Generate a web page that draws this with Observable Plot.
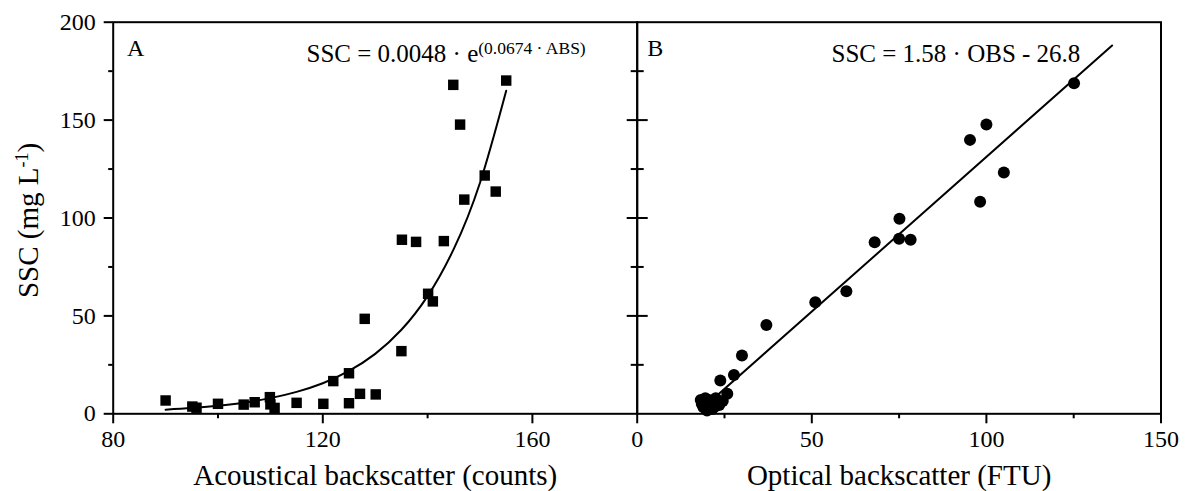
<!DOCTYPE html>
<html>
<head>
<meta charset="utf-8">
<script src="https://cdn.jsdelivr.net/npm/d3@7"></script>
<script src="https://cdn.jsdelivr.net/npm/@observablehq/plot@0.6"></script>
<style>
  html, body { margin: 0; padding: 0; background: #fff; }
  #chart { position: relative; width: 1189px; height: 491px; background: #fff; overflow: hidden; }
  #chart svg { position: absolute; top: 0; }
</style>
</head>
<body>
<div id="chart"></div>
<script>
// ---------- Panel A: acoustical backscatter (counts) vs SSC ----------
const absCounts = [90.0, 95.1, 95.9, 100.0, 104.9, 107.0, 109.9, 110.0, 110.8, 115.0, 120.1, 122.0, 125.0, 125.0, 127.1, 128.0, 130.1, 135.0, 135.1, 137.8, 140.1, 141.0, 143.1, 144.9, 146.2, 147.0, 150.9, 153.0, 155.0];
const absSSC    = [6.8, 3.7, 3.1, 5.1, 4.7, 5.9, 8.5, 4.8, 3.0, 5.6, 5.1, 16.7, 20.7, 5.4, 10.2, 48.5, 9.9, 32.0, 88.9, 87.8, 61.3, 57.4, 88.2, 168.0, 147.7, 109.4, 121.7, 113.5, 170.2];
// fitted curve
const fitAbsX   = [90, 95, 100, 105, 110, 115, 120, 125, 130, 135, 140, 145, 150, 155];
const fitAbsSSC = [2.1, 2.9, 4.1, 5.7, 8.0, 11.2, 15.6, 21.9, 30.6, 42.9, 60.1, 84.2, 118, 165];

// ---------- Panel B: optical backscatter (FTU) vs SSC ----------
const obsFTU = [125.1, 100.0, 95.3, 105.0, 98.2, 75.1, 75.0, 78.3, 68.0, 59.9, 51.0, 37.0, 30.0, 27.7, 23.8, 25.8, 24.5, 23.5, 22.0, 21.0, 20.0, 19.5, 19.0, 18.2, 18.5, 20.5, 22.5, 21.5];
const obsSSC = [168.8, 147.7, 139.9, 123.2, 108.3, 99.6, 89.4, 88.9, 87.6, 62.6, 57.0, 45.4, 29.8, 19.8, 17.0, 10.2, 6.5, 4.5, 3.4, 5.5, 1.7, 8.0, 3.4, 7.0, 5.0, 7.0, 8.0, 2.5];
const fitObsX   = [21, 136];
const fitObsSSC = [6.4, 188.1];

// ---------- ticks & labels ----------
const yMajor = [0, 50, 100, 150, 200];
const yMinor = [25, 75, 125, 175];
const yInnerMajor = [50, 100, 150];
const absMajor = [80, 120, 160];
const absMinor = [100, 140];
const obsMajor = [0, 50, 100, 150];
const obsMinor = [25, 75, 125];
const yTitle = "SSC (mg L-1)";
const xTitleA = "Acoustical backscatter (counts)";
const xTitleB = "Optical backscatter (FTU)";
const eqA = "SSC = 0.0048 · e";
const eqAsup = "(0.0674 · ABS)";
const eqB = "SSC = 1.58 · OBS - 26.8";

const font = "'Liberation Serif', 'Times New Roman', Times, serif";
const dataA = absCounts.map((x, i) => ({x, y: absSSC[i]}));
const dataB = obsFTU.map((x, i) => ({x, y: obsSSC[i]}));
const fitA = fitAbsX.map((x, i) => ({x, y: fitAbsSSC[i]}));
const fitB = fitObsX.map((x, i) => ({x, y: fitObsSSC[i]}));
const blank = () => "";

const mTop = 21.7, mBottom = 491 - 413.3;

const plotA = Plot.plot({
  width: 640, height: 491,
  marginLeft: 112.7, marginRight: 640 - 636.7, marginTop: mTop, marginBottom: mBottom,
  x: {domain: [80, 180]},
  y: {domain: [0, 200]},
  style: {fontFamily: font, background: "transparent", overflow: "visible", color: "black"},
  marks: [
    Plot.frame({stroke: "black", strokeWidth: 2}),
    Plot.axisX({ticks: absMajor, tickSize: 10, tickPadding: 6, strokeWidth: 2, fontSize: 24, label: null, tickFormat: d => d}),
    Plot.axisX({ticks: absMinor, tickSize: 5, strokeWidth: 2, tickFormat: blank, label: null}),
    Plot.axisY({ticks: yMajor, tickSize: 9, tickPadding: 8.5, strokeWidth: 2, fontSize: 24, label: null, tickFormat: d => d}),
    Plot.axisY({ticks: yMinor, tickSize: 4.5, strokeWidth: 2, tickFormat: blank, label: null}),
    Plot.axisY({anchor: "right", ticks: yInnerMajor, tickSize: 10, strokeWidth: 2, tickFormat: blank, label: null}),
    Plot.axisY({anchor: "right", ticks: yMinor, tickSize: 6, strokeWidth: 2, tickFormat: blank, label: null}),
    Plot.line(fitA, {x: "x", y: "y", curve: "natural", stroke: "black", strokeWidth: 2}),
    Plot.dot(dataA, {x: "x", y: "y", symbol: "square", r: 5.9, fill: "black"}),
    Plot.text(["A"], {text: d => d, frameAnchor: "top-left", dx: 13.8, dy: 33.3, lineAnchor: "bottom", textAnchor: "start", fontSize: 24, fill: "black"}),
    Plot.text([eqA], {text: d => d, frameAnchor: "top-left", dx: 193.3, dy: 39.3, lineAnchor: "bottom", textAnchor: "start", fontSize: 25, fill: "black"}),
    Plot.text([xTitleA], {text: d => d, frameAnchor: "bottom", dy: 70.7, lineAnchor: "bottom", fontSize: 29, fill: "black"}),
    Plot.text([yTitle], {text: d => d, frameAnchor: "left", dx: -84.7, dy: 2.5, rotate: -90, lineAnchor: "middle", textAnchor: "middle", fontSize: 29, fill: "black"})
  ]
});

const bLeft = 600;
const plotB = Plot.plot({
  width: 589, height: 491,
  marginLeft: 636.7 - bLeft, marginRight: 589 - (1160.5 - bLeft), marginTop: mTop, marginBottom: mBottom,
  x: {domain: [0, 150]},
  y: {domain: [0, 200]},
  style: {fontFamily: font, background: "transparent", overflow: "visible", color: "black"},
  marks: [
    Plot.frame({stroke: "black", strokeWidth: 2}),
    Plot.axisX({ticks: obsMajor, tickSize: 10, tickPadding: 6, strokeWidth: 2, fontSize: 24, label: null, tickFormat: d => d}),
    Plot.axisX({ticks: obsMinor, tickSize: 5, strokeWidth: 2, tickFormat: blank, label: null}),
    Plot.axisY({ticks: yInnerMajor, tickSize: 10, strokeWidth: 2, tickFormat: blank, label: null}),
    Plot.axisY({ticks: yMinor, tickSize: 6, strokeWidth: 2, tickFormat: blank, label: null}),
    Plot.line(fitB, {x: "x", y: "y", stroke: "black", strokeWidth: 2}),
    Plot.dot(dataB, {x: "x", y: "y", r: 6, fill: "black"}),
    Plot.text(["B"], {text: d => d, frameAnchor: "top-left", dx: 10, dy: 33.3, lineAnchor: "bottom", textAnchor: "start", fontSize: 24, fill: "black"}),
    Plot.text([eqB], {text: d => d, frameAnchor: "top-left", dx: 194.3, dy: 39.8, lineAnchor: "bottom", textAnchor: "start", fontSize: 25, fill: "black"}),
    Plot.text([xTitleB], {text: d => d, frameAnchor: "bottom", dy: 70.7, lineAnchor: "bottom", fontSize: 29, fill: "black"})
  ]
});

plotA.style.left = "0px";
plotB.style.left = bLeft + "px";
const chart = document.getElementById("chart");
chart.appendChild(plotA);
chart.appendChild(plotB);

// superscripts as tspans
const NS = "http://www.w3.org/2000/svg";
function ts(parent, str, attrs) {
  const t = document.createElementNS(NS, "tspan");
  for (const k in attrs) t.setAttribute(k, attrs[k]);
  t.textContent = str;
  parent.appendChild(t);
  return t;
}
plotA.querySelectorAll("text").forEach(t => {
  if (t.textContent === yTitle) {
    t.textContent = "";
    ts(t, "SSC (mg L");
    ts(t, "-1", {"font-size": 18, dy: -10});
    ts(t, ")", {dy: 10});
  } else if (t.textContent === eqA) {
    t.textContent = "";
    ts(t, eqA);
    ts(t, eqAsup, {"font-size": 17.5, dy: -8});
  }
});
</script>
</body>
</html>
